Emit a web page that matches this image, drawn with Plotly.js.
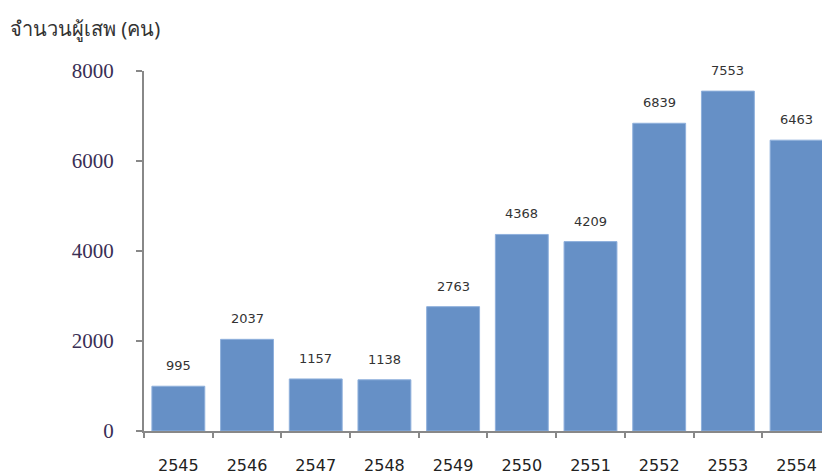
<!DOCTYPE html>
<html>
<head>
<meta charset="utf-8">
<script src="https://cdn.plot.ly/plotly-3.0.1.min.js"></script>
<style>html,body{margin:0;padding:0;background:#fff;}#chart{width:822px;height:475px;}</style>
</head>
<body>
<div id="chart"></div>
<script>
var years = ["2545","2546","2547","2548","2549","2550","2551","2552","2553","2554"];
var users = [995, 2037, 1157, 1138, 2763, 4368, 4209, 6839, 7553, 6463];
var yTicks = [0, 2000, 4000, 6000, 8000];
var yTitle = "จำนวนผู้เสพ (คน)";

var trace = {
  type: "bar",
  x: years,
  y: users,
  marker: {color: "#6690c6", line: {color: "#8fb0dc", width: 1}},
  hoverinfo: "none"
};

var labelAnns = years.map(function (yr, i) {
  return {
    x: i, y: users[i], xref: "x", yref: "y",
    text: String(users[i]), showarrow: false,
    yanchor: "bottom", yshift: 11,
    font: {family: "DejaVu Sans, Verdana, sans-serif", size: 13, color: "#333"}
  };
});

var layout = {
  width: 822, height: 475,
  margin: {l: 144, r: 0, t: 71, b: 44},
  paper_bgcolor: "#fff", plot_bgcolor: "#fff",
  bargap: 0.23,
  showlegend: false,
  xaxis: {
    type: "category",
    range: [-0.5, 9.37],
    showgrid: false, zeroline: false,
    showline: true, linecolor: "#888", linewidth: 2,
    ticks: "outside", tickson: "boundaries", ticklen: 5, tickcolor: "#888", tickwidth: 2,
    ticklabelstandoff: 19,
    tickfont: {family: "DejaVu Sans, Verdana, sans-serif", size: 16, color: "#222"}
  },
  yaxis: {
    range: [0, 8000],
    tickvals: yTicks,
    ticktext: yTicks.map(String),
    showgrid: false, zeroline: false,
    showline: true, linecolor: "#888", linewidth: 2,
    ticks: "outside", ticklen: 6, tickcolor: "#888", tickwidth: 2,
    ticklabelstandoff: 18,
    tickfont: {family: "Liberation Serif, Times New Roman, serif", size: 21, color: "#3a2f55"}
  },
  annotations: labelAnns.concat([{
    text: yTitle, xref: "paper", yref: "paper", x: -144/678, y: 1, yshift: 43,
    xanchor: "left", yanchor: "middle", showarrow: false, xshift: 8,
    font: {family: "Noto Sans, DejaVu Sans, sans-serif", size: 20, color: "#333"}
  }])
};

Plotly.newPlot("chart", [trace], layout, {staticPlot: true, displayModeBar: false});
</script>
</body>
</html>
